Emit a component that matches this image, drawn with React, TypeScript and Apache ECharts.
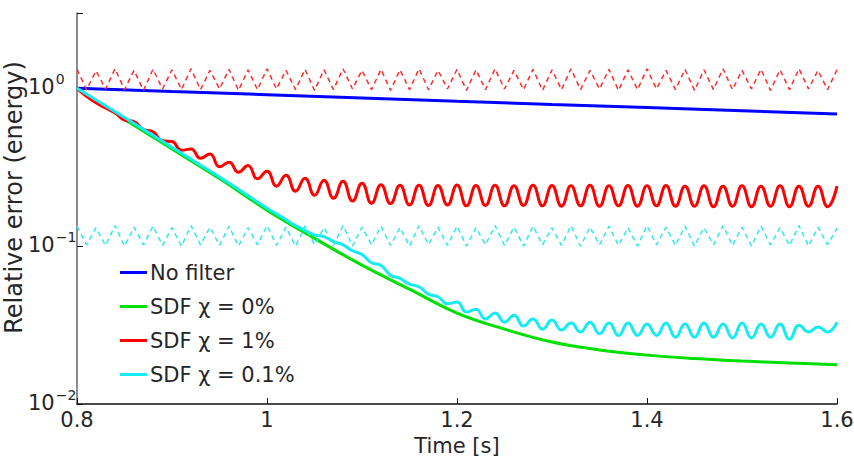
import { useEffect, useRef } from "react";
import * as echarts from "echarts";

// Sampling instants (s) for the oscillating traces
const T = [
  0.80, 0.81, 0.82, 0.83, 0.84, 0.85, 0.86, 0.87, 0.88, 0.89,
  0.90, 0.91, 0.92, 0.93, 0.94, 0.95, 0.96, 0.97, 0.98, 0.99,
  1.00, 1.01, 1.02, 1.03, 1.04, 1.05, 1.06, 1.07, 1.08, 1.09,
  1.10, 1.11, 1.12, 1.13, 1.14, 1.15, 1.16, 1.17, 1.18, 1.19,
  1.20, 1.21, 1.22, 1.23, 1.24, 1.25, 1.26, 1.27, 1.28, 1.29,
  1.30, 1.31, 1.32, 1.33, 1.34, 1.35, 1.36, 1.37, 1.38, 1.39,
  1.40, 1.41, 1.42, 1.43, 1.44, 1.45, 1.46, 1.47, 1.48, 1.49,
  1.50, 1.51, 1.52, 1.53, 1.54, 1.55, 1.56, 1.57, 1.58, 1.59,
  1.60,
];

// No filter
const noFilterT = [0.8, 0.9, 1.0, 1.1, 1.2, 1.3, 1.4, 1.5, 1.6];
const noFilter = [1.0, 0.954, 0.911, 0.869, 0.829, 0.791, 0.755, 0.72, 0.687];

// SDF chi = 0%
const sdf0T = [
  0.8, 0.85, 0.9, 0.95, 1.0, 1.05, 1.1, 1.15, 1.2, 1.25, 1.3, 1.35, 1.4,
  1.45, 1.5, 1.55, 1.6,
];
const sdf0 = [
  1.0, 0.638, 0.413, 0.268, 0.169, 0.112, 0.0758, 0.0534, 0.0377, 0.0298,
  0.0247, 0.022, 0.0204, 0.0194, 0.0187, 0.0182, 0.0177,
];

// SDF chi = 1% (sampled on T)
const sdf1 = [
  1.0, 0.89, 0.81, 0.75, 0.7, 0.63, 0.615, 0.55, 0.53, 0.465,
  0.46, 0.405, 0.413, 0.36, 0.384, 0.318, 0.34, 0.294, 0.324, 0.267,
  0.2985, 0.24, 0.281, 0.223, 0.269, 0.21, 0.262, 0.201, 0.258, 0.193,
  0.2505, 0.187, 0.245, 0.186, 0.243, 0.182, 0.243, 0.181, 0.242, 0.182,
  0.244, 0.18, 0.242, 0.181, 0.243, 0.18, 0.241, 0.181, 0.243, 0.18,
  0.242, 0.179, 0.241, 0.18, 0.243, 0.179, 0.241, 0.18, 0.242, 0.179,
  0.241, 0.18, 0.242, 0.179, 0.24, 0.179, 0.241, 0.178, 0.24, 0.179,
  0.241, 0.178, 0.24, 0.179, 0.241, 0.178, 0.24, 0.179, 0.24, 0.178,
  0.24,
];

// SDF chi = 0.1%
const sdf01T = [
  0.8, 0.85, 0.9, 0.95,
  1.00, 1.01, 1.02, 1.03, 1.04, 1.05, 1.06, 1.07, 1.08, 1.09,
  1.10, 1.11, 1.12, 1.13, 1.14, 1.15, 1.16, 1.17, 1.18, 1.19,
  1.20, 1.21, 1.22, 1.23, 1.24, 1.25, 1.26, 1.27, 1.28, 1.29,
  1.30, 1.31, 1.32, 1.33, 1.34, 1.35, 1.36, 1.37, 1.38, 1.39,
  1.40, 1.41, 1.42, 1.43, 1.44, 1.45, 1.46, 1.47, 1.48, 1.49,
  1.50, 1.51, 1.52, 1.53, 1.54, 1.55, 1.56, 1.57, 1.58, 1.59,
  1.60,
];
const sdf01 = [
  1.0, 0.653, 0.423, 0.274,
  0.174, 0.16, 0.147, 0.135, 0.126, 0.118, 0.115, 0.107, 0.102, 0.0935,
  0.0885, 0.0785, 0.0755, 0.0655, 0.0625, 0.0574, 0.0553, 0.0497, 0.0478, 0.0432,
  0.0442, 0.0382, 0.0399, 0.0345, 0.0377, 0.033, 0.0365, 0.0312, 0.0345, 0.0298,
  0.034, 0.0294, 0.0326, 0.0286, 0.033, 0.0279, 0.0326, 0.0272, 0.0326, 0.0272,
  0.0321, 0.0272, 0.0326, 0.0265, 0.0321, 0.0265, 0.0326, 0.0265, 0.0321, 0.0262,
  0.0326, 0.0262, 0.0321, 0.0265, 0.0321, 0.0257, 0.0316, 0.0286, 0.0307, 0.0286,
  0.033,
];

// Reference levels, dashed (sampled on T)
const ref1 = [
  1.32, 0.98, 1.29, 0.99, 1.33, 0.98, 1.3, 0.97, 1.32, 0.99,
  1.31, 0.98, 1.33, 0.98, 1.3, 0.99, 1.32, 0.97, 1.31, 0.98,
  1.33, 0.99, 1.3, 0.98, 1.32, 0.97, 1.31, 0.98, 1.33, 0.99,
  1.3, 0.98, 1.32, 0.97, 1.31, 0.98, 1.33, 0.98, 1.3, 0.99,
  1.32, 0.97, 1.31, 0.98, 1.33, 0.99, 1.3, 0.98, 1.32, 0.97,
  1.31, 0.98, 1.33, 0.98, 1.3, 0.99, 1.32, 0.97, 1.31, 0.98,
  1.33, 0.99, 1.3, 0.98, 1.32, 0.97, 1.31, 0.98, 1.33, 0.98,
  1.3, 0.99, 1.32, 0.97, 1.31, 0.98, 1.33, 0.99, 1.3, 0.98,
  1.31,
];
const ref01 = [
  0.134, 0.102, 0.131, 0.101, 0.135, 0.1, 0.132, 0.102, 0.134, 0.101,
  0.131, 0.1, 0.135, 0.102, 0.132, 0.101, 0.134, 0.1, 0.131, 0.102,
  0.135, 0.101, 0.132, 0.1, 0.134, 0.102, 0.131, 0.101, 0.135, 0.1,
  0.132, 0.102, 0.134, 0.101, 0.131, 0.1, 0.135, 0.102, 0.132, 0.101,
  0.134, 0.1, 0.131, 0.102, 0.135, 0.101, 0.132, 0.1, 0.134, 0.102,
  0.131, 0.101, 0.135, 0.1, 0.132, 0.102, 0.134, 0.101, 0.131, 0.1,
  0.135, 0.102, 0.132, 0.101, 0.134, 0.1, 0.131, 0.102, 0.135, 0.101,
  0.132, 0.1, 0.134, 0.102, 0.131, 0.101, 0.135, 0.1, 0.132, 0.102,
  0.13,
];

const xTicks = [0.8, 1.0, 1.2, 1.4, 1.6];

const FONT = "'DejaVu Sans', 'Liberation Sans', Arial, sans-serif";
const INK = "#262626";

const pairs = (xs: number[], ys: number[]) => xs.map((x, i) => [x, ys[i]]);

export default function App() {
  const ref = useRef<HTMLDivElement>(null);

  useEffect(() => {
    const chart = echarts.init(ref.current!, null, { renderer: "svg" });
    const solid = (name: string, color: string, data: number[][], smooth: boolean | number) => ({
      name,
      type: "line",
      data,
      symbol: "none",
      smooth,
      lineStyle: { color, width: 3 },
      itemStyle: { color },
    });
    const dashed = (name: string, color: string, data: number[][]) => ({
      name,
      type: "line",
      data,
      symbol: "none",
      lineStyle: { color, width: 1.5, type: [5, 4] },
      itemStyle: { color },
    });

    chart.setOption({
      animation: false,
      textStyle: { fontFamily: FONT },
      grid: { left: 77, right: 17, top: 13, bottom: 71, containLabel: false, outerBoundsMode: "none" },
      xAxis: {
        type: "value",
        min: xTicks[0],
        max: xTicks[xTicks.length - 1],
        interval: 0.2,
        name: "Time [s]",
        nameLocation: "middle",
        nameGap: 31,
        nameMoveOverlap: false,
        nameTextStyle: { fontSize: 21, color: INK, fontFamily: FONT },
        axisLine: { lineStyle: { color: "#111", width: 1.5 } },
        axisTick: { inside: true, length: 6, lineStyle: { color: "#111" } },
        splitLine: { show: false },
        axisLabel: {
          fontSize: 21,
          color: INK,
          margin: 5,
          fontFamily: FONT,
          formatter: (v: number) => String(parseFloat(v.toFixed(1))),
        },
      },
      yAxis: {
        type: "log",
        min: 0.01,
        max: 3,
        logBase: 10,
        name: "Relative error (energy)",
        nameLocation: "middle",
        nameGap: 51,
        nameMoveOverlap: false,
        nameTextStyle: { fontSize: 24, color: INK, fontFamily: FONT, padding: [0, 0, 0, 22] },
        axisLine: { lineStyle: { color: "#666", width: 1.5 } },
        axisTick: { inside: true, length: 6, lineStyle: { color: "#111" } },
        minorTick: { show: false },
        splitLine: { show: false },
        axisLabel: {
          margin: 49,
          align: "left",
          color: INK,
          fontFamily: FONT,
          formatter: (v: number) => {
            const lg = Math.log10(v);
            const e = Math.round(lg);
            if (Math.abs(lg - e) > 1e-6) return "";
            const sup = e === 0 ? "0" : "\u2212" + Math.abs(e);
            return `{b|10}{s|${sup}}`;
          },
          rich: {
            b: { fontSize: 21, fontFamily: FONT, color: INK, lineHeight: 20, padding: [0, 0, 3, 0] },
            s: { fontSize: 14, fontFamily: FONT, color: INK, lineHeight: 14, padding: [0, 0, 19, 1] },
          },
        },
      },
      legend: {
        orient: "vertical",
        left: 120,
        top: 262,
        padding: 0,
        icon: "rect",
        itemWidth: 27,
        itemHeight: 3,
        itemGap: 13,
        data: ["No filter", "SDF \u03c7 = 0%", "SDF \u03c7 = 1%", "SDF \u03c7 = 0.1%"],
        textStyle: { fontSize: 21, color: INK, fontFamily: FONT, padding: [0, 0, 0, -2] },
      },
      series: [
        solid("No filter", "#0000ff", pairs(noFilterT, noFilter), false),
        solid("SDF \u03c7 = 0%", "#00e000", pairs(sdf0T, sdf0), 0.4),
        solid("SDF \u03c7 = 1%", "#ff0000", pairs(T, sdf1), 0.5),
        solid("SDF \u03c7 = 0.1%", "#12ecf2", pairs(sdf01T, sdf01), 0.5),
        dashed("ref 1%", "#ff2a2a", pairs(T, ref1)),
        dashed("ref 0.1%", "#2ee8f0", pairs(T, ref01)),
      ],
    });
    return () => chart.dispose();
  }, []);

  return (
    <div
      ref={ref}
      style={{ position: "absolute", left: 0, top: 0, width: 854, height: 475, background: "#fff" }}
    />
  );
}
